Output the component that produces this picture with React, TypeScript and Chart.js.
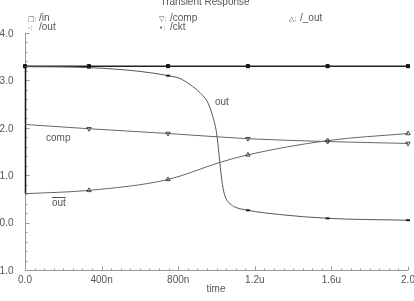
import { useEffect, useRef } from "react";
import { Chart, registerables } from "chart.js";
Chart.register(...registerables);

const TITLE = "Transient Response";
const X_AXIS_LABEL = "time";
const X_TICKS = [0, 0.4, 0.8, 1.2, 1.6, 2.0];
const X_TICK_LABELS = ["0.0", "400n", "800n", "1.2u", "1.6u", "2.0"];
const Y_TICKS = [4, 3, 2, 1, 0, -1];
const Y_TICK_LABELS = ["4.0", "3.0", "2.0", "1.0", "0.0", "-1.0"];

const LEGEND_SYMBOLS = ["□", "▽", "△", "-", "•"];
const LEGEND_LABELS = ["/in", "/comp", "/_out", "/out", "/ckt"];

// time in microseconds, values in volts
const IN_T = [0, 0.334, 0.747, 1.164, 1.58, 2.0];
const IN_V = [3.3, 3.3, 3.3, 3.3, 3.3, 3.3];

const OUT_T = [0, 0.334, 0.6, 0.747, 0.809, 0.862, 0.914, 0.956, 0.982, 1.0, 1.01, 1.02, 1.031, 1.045, 1.065, 1.09, 1.164, 1.33, 1.58, 2.0];
const OUT_V = [3.29, 3.27, 3.19, 3.1, 3.04, 2.91, 2.74, 2.52, 2.22, 1.9, 1.56, 1.16, 0.8, 0.55, 0.42, 0.34, 0.26, 0.17, 0.09, 0.05];

const COMP_T = [0, 0.334, 0.747, 1.164, 1.58, 2.0];
const COMP_V = [2.07, 1.98, 1.88, 1.77, 1.71, 1.67];

const OUTB_T = [0, 0.334, 0.747, 1.018, 1.164, 1.58, 2.0];
const OUTB_V = [0.61, 0.68, 0.91, 1.27, 1.43, 1.73, 1.88];

const MARK_T = [0.334, 0.747, 1.164, 1.58, 2.0];

const FONT = "10px 'Liberation Sans', Arial, sans-serif";
const TEXT_COLOR = "#555";
const AXIS_COLOR = "#999";

function pts(t: number[], v: number[]) {
  return t.map((x, i) => ({ x, y: v[i] }));
}

const decorPlugin = {
  id: "decor",
  beforeDatasetsDraw(chart: any) {
    const { ctx, chartArea, scales } = chart;
    const xs = scales.x;
    const ys = scales.y;
    ctx.save();
    ctx.strokeStyle = AXIS_COLOR;
    ctx.lineWidth = 1;
    ctx.beginPath();
    const lx = Math.round(chartArea.left) + 0.5;
    const by = Math.round(chartArea.bottom) + 0.5;
    ctx.moveTo(lx, chartArea.top);
    ctx.lineTo(lx, by);
    ctx.lineTo(chartArea.right, by);
    for (let v = -1; v <= 4.0001; v += 0.2) {
      const y = Math.round(ys.getPixelForValue(v)) + 0.5;
      const major = Math.abs(v - Math.round(v)) < 1e-6;
      ctx.moveTo(lx, y);
      ctx.lineTo(lx + (major ? 4 : 2), y);
    }
    for (let v = 0; v <= 2.0001; v += 0.05) {
      const x = Math.round(xs.getPixelForValue(v)) + 0.5;
      const major = Math.abs(v / 0.4 - Math.round(v / 0.4)) < 1e-6;
      ctx.moveTo(x, by);
      ctx.lineTo(x, by - (major ? 4 : 2));
    }
    ctx.stroke();
    // dark segment at t=0 spanning the starting values
    const starts = [IN_V[0], OUT_V[0], COMP_V[0], OUTB_V[0]];
    ctx.strokeStyle = "#111";
    ctx.lineWidth = 1.5;
    ctx.beginPath();
    ctx.moveTo(lx, ys.getPixelForValue(Math.max(...starts)));
    ctx.lineTo(lx, ys.getPixelForValue(Math.min(...starts)));
    ctx.stroke();

    ctx.fillStyle = TEXT_COLOR;
    ctx.font = FONT;
    ctx.textAlign = "right";
    ctx.textBaseline = "middle";
    Y_TICKS.forEach((v, i) => {
      ctx.fillText(Y_TICK_LABELS[i], 13.5, ys.getPixelForValue(v) + 1);
    });
    ctx.textAlign = "center";
    X_TICKS.forEach((v, i) => {
      ctx.fillText(X_TICK_LABELS[i], xs.getPixelForValue(v), 280);
    });
    ctx.fillText(X_AXIS_LABEL, 216, 289);
    ctx.textBaseline = "alphabetic";
    ctx.fillText(TITLE, 205, 5);
    // legend
    ctx.textAlign = "left";
    const cols = [28, 159, 289];
    const rows = [21, 29.5];
    LEGEND_LABELS.forEach((lab, i) => {
      const col = i % 3;
      const row = Math.floor(i / 3);
      const x = cols[col];
      const y = rows[row];
      ctx.font = "7px 'DejaVu Sans', sans-serif";
      ctx.fillText(LEGEND_SYMBOLS[i] + ":", x, y);
      ctx.font = FONT;
      ctx.fillText(lab, x + 11, y);
    });
    // curve labels
    ctx.textBaseline = "middle";
    ctx.fillText("out", 215, 102);
    ctx.fillText("comp", 46, 138);
    ctx.fillText("out", 52, 203);
    const w = ctx.measureText("out").width;
    ctx.strokeStyle = TEXT_COLOR;
    ctx.lineWidth = 1;
    ctx.beginPath();
    ctx.moveTo(52, 197.5);
    ctx.lineTo(52 + w, 197.5);
    ctx.stroke();
    ctx.restore();
  },
};

export default function App() {
  const ref = useRef<HTMLCanvasElement | null>(null);
  useEffect(() => {
    document.body.style.margin = "0";
    const markR = (r: number, withZero = false) => (c: any) => {
      const raw = c.raw;
      if (!raw) return 0;
      if (withZero && raw.x === 0) return r;
      return MARK_T.some((t) => Math.abs(t - raw.x) < 1e-6) ? r : 0;
    };
    const chart = new Chart(ref.current!, {
      type: "line",
      data: {
        datasets: [
          {
            label: "/_out",
            data: pts(OUTB_T, OUTB_V),
            borderColor: "#666",
            borderWidth: 1,
            pointStyle: "triangle",
            pointRadius: markR(2.5),
            pointBorderColor: "#444",
            pointBackgroundColor: "rgba(0,0,0,0)",
            pointBorderWidth: 1,
            cubicInterpolationMode: "monotone",
            clip: 6,
          },
          {
            label: "/comp",
            data: pts(COMP_T, COMP_V),
            borderColor: "#666",
            borderWidth: 1,
            pointStyle: "triangle",
            rotation: 180,
            pointRadius: markR(2.5),
            pointBorderColor: "#444",
            pointBackgroundColor: "rgba(0,0,0,0)",
            pointBorderWidth: 1,
            cubicInterpolationMode: "monotone",
            clip: 6,
          },
          {
            label: "/out",
            data: pts(OUT_T, OUT_V),
            borderColor: "#555",
            borderWidth: 1,
            pointStyle: "line",
            pointRadius: markR(2),
            pointBorderColor: "#222",
            pointBorderWidth: 2,
            cubicInterpolationMode: "monotone",
            clip: 6,
          },
          {
            label: "/in",
            data: pts(IN_T, IN_V),
            borderColor: "#222",
            borderWidth: 1.5,
            pointStyle: "rect",
            pointRadius: markR(2.2, true),
            pointBorderColor: "#111",
            pointBackgroundColor: "#111",
            pointBorderWidth: 1,
            clip: 6,
          },
        ],
      },
      options: {
        responsive: false,
        animation: false,
        devicePixelRatio: 1,
        layout: { padding: { left: 25, right: 6, top: 33, bottom: 31 } },
        plugins: { legend: { display: false }, tooltip: { enabled: false }, title: { display: false } },
        scales: {
          x: { type: "linear", min: 0, max: 2, display: false },
          y: { type: "linear", min: -1, max: 4, display: false },
        },
      },
      plugins: [decorPlugin],
    } as any);
    return () => chart.destroy();
  }, []);
  return <canvas ref={ref} width={414} height={301} style={{ display: "block" }} />;
}
